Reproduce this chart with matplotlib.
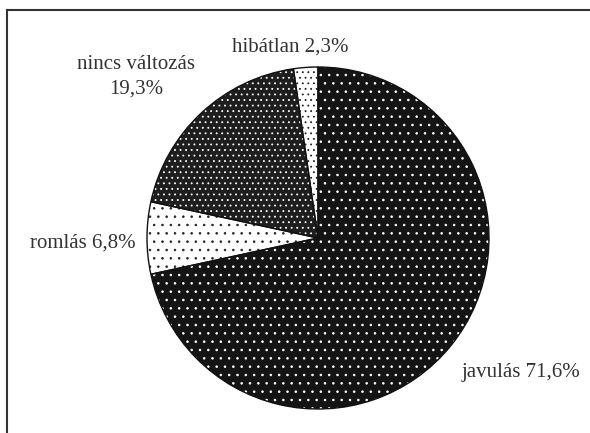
import matplotlib
matplotlib.use("Agg")
import matplotlib.pyplot as plt
from matplotlib.lines import Line2D

# Data
labels = ['javulás', 'romlás', 'nincs változás', 'hibátlan']
values = [71.6, 6.8, 19.3, 2.3]
value_labels = ['71,6%', '6,8%', '19,3%', '2,3%']

# fill colour, dot colour, hatch
faces = ['#141414', 'white', '#1e1e1e', 'white']
dots = ['white', '#222222', 'white', '#222222']
hatches = ['..', '..', '...', '...']

W, H = 590, 433
fig = plt.figure(figsize=(W / 100, H / 100), dpi=100)
plt.rcParams['hatch.linewidth'] = 0.6

cx, cy, r = 318, 238, 171
ax = fig.add_axes([(cx - r) / W, (H - cy - r) / H, 2 * r / W, 2 * r / H])

wedges, _ = ax.pie(values, startangle=90, counterclock=False,
                   wedgeprops=dict(linewidth=0))
for w, fc, dc, h in zip(wedges, faces, dots, hatches):
    w.set_facecolor(fc)
    w.set_edgecolor(dc)
    w.set_hatch(h)

# outlines
outl, _ = ax.pie(values, startangle=90, counterclock=False,
                 wedgeprops=dict(fill=False, edgecolor='#111111', linewidth=1.0))
ax.set_xlim(-1, 1)
ax.set_ylim(-1, 1)
ax.set_aspect('equal')
ax.axis('off')

font = dict(family='Liberation Serif', fontsize=15, color='#333333')
pos = [(521, 372), (83, 243), (136, 77), (290, 47)]
for (x, y), lab, vl in zip(pos, labels, value_labels):
    if lab == 'nincs változás':
        txt = lab + '\n' + vl
    else:
        txt = lab + ' ' + vl
    fig.text(x / W, 1 - y / H, txt, ha='center', va='center', linespacing=1.4, **font)

# frame (top and left visible)
fig.add_artist(Line2D([7 / W, 1], [1 - 10 / H, 1 - 10 / H], color='#333333', lw=1.5))
fig.add_artist(Line2D([7 / W, 7 / W], [0, 1 - 10 / H], color='#333333', lw=1.5))

fig.savefig('out.png', dpi=100)
